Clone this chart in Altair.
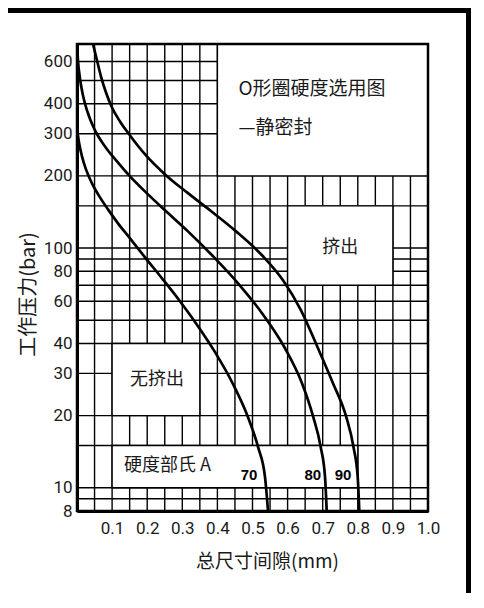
import altair as alt
import pandas as pd

# ---- curve data (total diametral gap in mm vs working pressure in bar) ----
gap_70 = [0.0, 0.0057, 0.0142, 0.0256, 0.0427, 0.0655, 0.0883, 0.1168, 0.151, 0.1937,
          0.2422, 0.2934, 0.3447, 0.3932, 0.4444, 0.4872, 0.5157, 0.5356, 0.5442]
pres_70 = [315.4, 275.8, 241.2, 212.9, 186.1, 162.7, 145.0, 126.8, 109.8, 91.5,
           74.8, 60.0, 47.2, 36.8, 27.1, 19.7, 14.8, 11.1, 8.0]

gap_80 = [0.0, 0.0028, 0.0085, 0.0171, 0.0285, 0.0513, 0.0798, 0.114, 0.151, 0.1994, 0.2507,
          0.3162, 0.3875, 0.4587, 0.5271, 0.5926, 0.641, 0.6724, 0.6943, 0.7066, 0.7114]
pres_80 = [710, 605.8, 509.8, 433.0, 375.0, 309.5, 265.4, 229.8, 199.0, 169.1, 143.7,
           117.4, 92.4, 71.3, 53.5, 38.2, 27.3, 19.9, 14.8, 11.1, 8.0]

gap_90 = [0.0456, 0.057, 0.0684, 0.0826, 0.0997, 0.1225, 0.151, 0.1966, 0.2507, 0.3134, 0.3789,
          0.453, 0.5299, 0.5869, 0.6382, 0.6866, 0.7293, 0.7664, 0.7877, 0.7997, 0.8043]
pres_90 = [710, 605.8, 519.5, 445.6, 385.9, 337.4, 295.0, 243.4, 202.9, 170.7, 143.7,
           117.4, 92.4, 73.4, 55.0, 38.2, 27.3, 19.9, 14.8, 11.1, 8.0]

# ---- axes / grid ----
x_domain = [0.0, 1.0]
y_domain = [8.0, 710.0]
x_ticks = [0.1, 0.2, 0.3, 0.4, 0.5, 0.6, 0.7, 0.8, 0.9, 1.0]
y_ticks = [8, 10, 20, 30, 40, 60, 80, 100, 200, 300, 400, 600]
grid_x = [0.05, 0.1, 0.15, 0.2, 0.25, 0.3, 0.35, 0.4, 0.45, 0.5,
          0.55, 0.6, 0.65, 0.7, 0.75, 0.8, 0.85, 0.9, 0.95]
grid_y = [9, 10, 15, 20, 30, 40, 50, 60, 70, 80, 90, 100, 150, 200, 300, 400, 500, 600]

# ---- blank boxes (regions without grid) ----
box_x1 = [0.4, 0.6, 0.1, 0.1]
box_x2 = [1.0, 0.9, 0.35, 0.8]
box_y1 = [200, 70, 20, 10]
box_y2 = [710, 150, 40, 15]

# ---- annotations ----
title_lines = ["O形圈硬度选用图", "—静密封"]
title_x = [0.46, 0.46]
title_y = [462, 318]

region_text = ["挤出", "无挤出"]
region_x = [0.75, 0.228]
region_y = [99.8, 28.1]

legend_text = ["硬度部氏 A"]
legend_x = [0.134]
legend_y = [12.3]

grade_text = ["70", "80", "90"]
grade_x = [0.49, 0.672, 0.758]
grade_y = [11.3, 11.3, 11.3]

# ---------------------------------------------------------------
rows = []
for g, xs_, ys_ in (("70", gap_70, pres_70), ("80", gap_80, pres_80), ("90", gap_90, pres_90)):
    for i, (a, b) in enumerate(zip(xs_, ys_)):
        rows.append({"grade": g, "gap": a, "p": b, "i": i})
curves = pd.DataFrame(rows)

xs = alt.Scale(domain=x_domain, nice=False, zero=False)
ys = alt.Scale(type="log", domain=y_domain, nice=False)

CJK = "Noto Sans CJK SC"
TXT = "#1a1a1a"

x_axis = alt.Axis(values=x_ticks, format=".1f", title="总尺寸间隙(mm)",
                  labelFont="Roboto", labelFontSize=17, labelColor=TXT,
                  ticks=False, grid=False, domainColor="black", domainWidth=3,
                  labelPadding=9, labelFlush=False,
                  titleFont=CJK, titleFontSize=19, titleFontWeight="normal",
                  titleColor=TXT, titlePadding=16, titleX=190, zindex=1)
y_axis = alt.Axis(values=y_ticks, format="d", title="工作压力(bar)",
                  labelFont="Roboto", labelFontSize=17, labelColor=TXT,
                  ticks=False, grid=False, domainColor="black", domainWidth=3,
                  labelPadding=5, labelFlush=False,
                  titleFont=CJK, titleFontSize=20, titleFontWeight="normal",
                  titleColor=TXT, titleX=-39, titleY=250, zindex=1)


def X(field, **kw):
    return alt.X(field, type="quantitative", scale=xs, axis=x_axis, **kw)


def Y(field, **kw):
    return alt.Y(field, type="quantitative", scale=ys, axis=y_axis, **kw)


vgrid = alt.Chart(pd.DataFrame({"v": grid_x})).mark_rule(
    color="black", strokeWidth=1.4).encode(x=X("v"))
hgrid = alt.Chart(pd.DataFrame({"v": grid_y})).mark_rule(
    color="black", strokeWidth=1.4).encode(y=Y("v"))

boxes = alt.Chart(pd.DataFrame({"x1": box_x1, "x2": box_x2, "y1": box_y1, "y2": box_y2})).mark_rect(
    fill="white", stroke="black", strokeWidth=1.4).encode(
    x=X("x1"), x2="x2", y=Y("y1"), y2="y2")

lines = alt.Chart(curves).mark_line(
    interpolate="monotone", color="black", strokeWidth=2.7, clip=True).encode(
    x=X("gap"), y=Y("p"), detail="grade:N", order="i:Q")

frame = alt.Chart(pd.DataFrame({"x": [x_domain[0]], "x2": [x_domain[1]],
                                "y": [y_domain[0]], "y2": [y_domain[1]]})).mark_rect(
    fillOpacity=0, stroke="black", strokeWidth=2.5).encode(
    x=X("x"), x2="x2", y=Y("y"), y2="y2")

titles = alt.Chart(pd.DataFrame({"t": title_lines, "x": title_x, "y": title_y})).mark_text(
    font=CJK, fontSize=19, align="left", baseline="middle", color=TXT).encode(
    x=X("x"), y=Y("y"), text="t:N")

regions = alt.Chart(pd.DataFrame({"t": region_text, "x": region_x, "y": region_y})).mark_text(
    font=CJK, fontSize=18, align="center", baseline="middle", color=TXT).encode(
    x=X("x"), y=Y("y"), text="t:N")

legend = alt.Chart(pd.DataFrame({"t": legend_text, "x": legend_x, "y": legend_y})).mark_text(
    font=CJK, fontSize=18, align="left", baseline="middle", color=TXT).encode(
    x=X("x"), y=Y("y"), text="t:N")

grades = alt.Chart(pd.DataFrame({"t": grade_text, "x": grade_x, "y": grade_y})).mark_text(
    font="Liberation Sans", fontSize=15, fontWeight="bold", align="center",
    baseline="middle", color="black").encode(
    x=X("x"), y=Y("y"), text="t:N")

dummy = pd.DataFrame({"k": [0]})
outer_right = alt.Chart(dummy).mark_rule(color="black", strokeWidth=5).encode(
    x=alt.value(391.5), y=alt.value(-36), y2=alt.value(549))
outer_top = alt.Chart(dummy).mark_rule(color="black", strokeWidth=5).encode(
    x=alt.value(-69), x2=alt.value(394), y=alt.value(-33.5))

chart = alt.layer(
    vgrid, hgrid, boxes, lines, frame, titles, regions, legend, grades, outer_right, outer_top
).properties(
    width=351, height=467,
    padding={"left": 69, "top": 36, "right": 46, "bottom": 82},
    autosize=alt.AutoSizeParams(type="none"),
).configure_view(stroke=None).configure(background="white")

chart.save("out.html", embed_options={"renderer": "svg", "actions": False})
